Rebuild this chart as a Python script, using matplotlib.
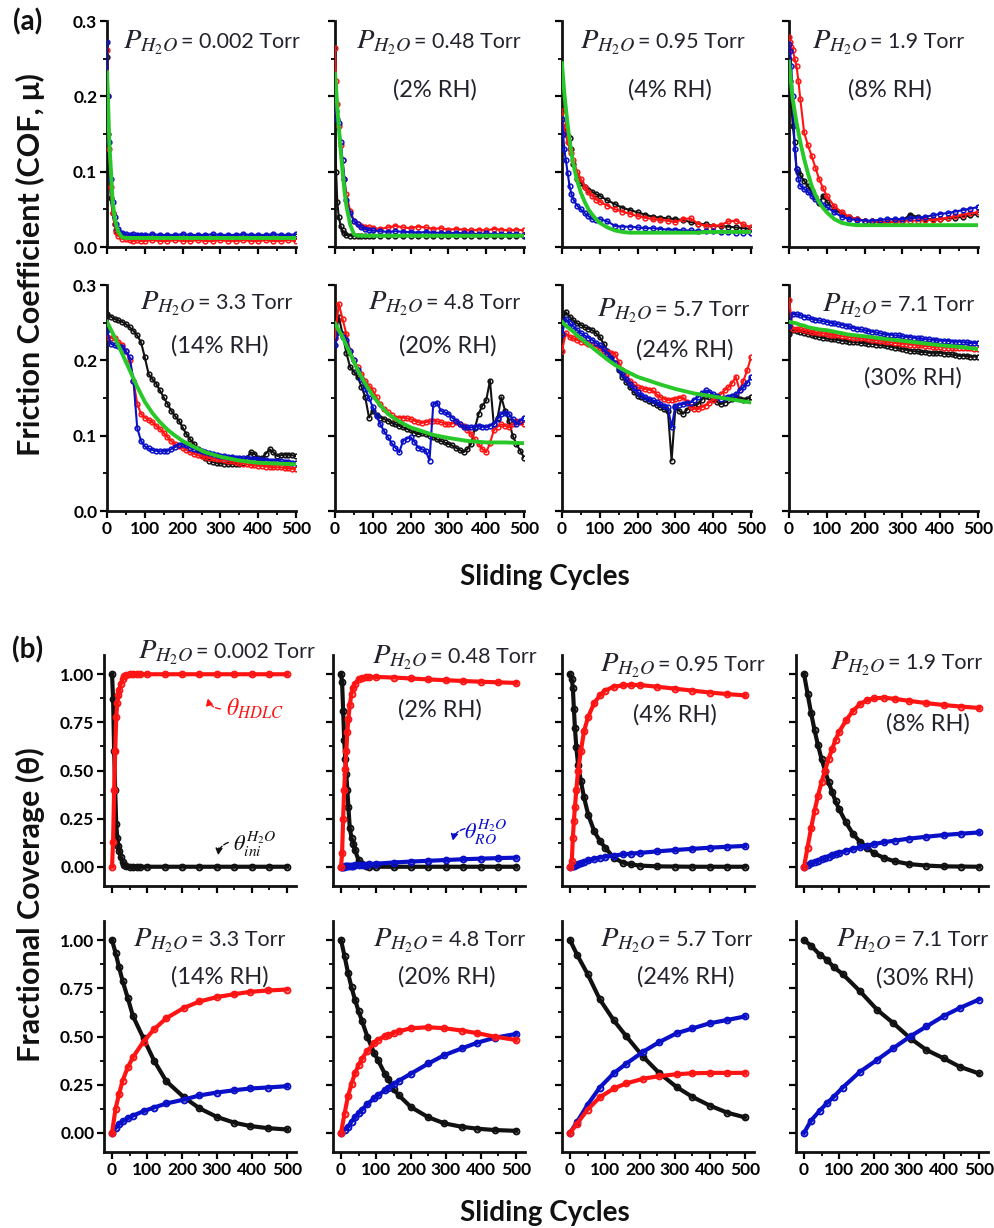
import matplotlib
matplotlib.use('Agg')
import matplotlib.pyplot as plt
from matplotlib.ticker import MultipleLocator, FormatStrFormatter, NullFormatter

plt.rcParams['font.family'] = ['Lato', 'DejaVu Sans']
plt.rcParams['mathtext.fontset'] = 'stix'

# ---------------- DATA: panel (a) friction coefficient ----------------
XF = [0, 3, 6, 10, 15, 20, 25, 30, 40, 50, 60, 70, 80, 90, 100, 120, 140, 160, 180, 200,
      220, 240, 260, 280, 300, 320, 340, 360, 380, 400, 420, 440, 460, 480, 500]
X10 = [0, 10, 20, 30, 40, 50, 60, 70, 80, 90, 100, 110, 120, 130, 140, 150, 160, 170, 180, 190,
       200, 210, 220, 230, 240, 250, 260, 270, 280, 290, 300, 310, 320, 330, 340, 350, 360, 370, 380, 390,
       400, 410, 420, 430, 440, 450, 460, 470, 480, 490, 500]
XG = [0, 10, 20, 30, 40, 50, 60, 80, 100, 120, 140, 160, 180, 200, 230, 260, 300, 350, 400, 450, 500]

a1_black = [0.252, 0.15, 0.10, 0.065, 0.045, 0.03, 0.022, 0.018, 0.015, 0.014, 0.014, 0.013, 0.014, 0.014, 0.013,
            0.014, 0.014, 0.013, 0.014, 0.014, 0.013, 0.014, 0.014, 0.013, 0.014, 0.014, 0.013, 0.014, 0.014, 0.013,
            0.014, 0.014, 0.013, 0.014, 0.014]
a1_red = [0.262, 0.20, 0.13, 0.08, 0.045, 0.03, 0.02, 0.015, 0.011, 0.010, 0.009, 0.008, 0.009, 0.008, 0.008,
          0.009, 0.008, 0.008, 0.009, 0.008, 0.008, 0.009, 0.008, 0.008, 0.009, 0.008, 0.008, 0.009, 0.008, 0.008,
          0.009, 0.008, 0.008, 0.009, 0.008]
a1_blue = [0.272, 0.20, 0.14, 0.09, 0.06, 0.04, 0.03, 0.024, 0.019, 0.017, 0.016, 0.017, 0.016, 0.016, 0.016,
           0.017, 0.016, 0.016, 0.016, 0.017, 0.016, 0.016, 0.016, 0.017, 0.016, 0.016, 0.016, 0.017, 0.016, 0.016,
           0.016, 0.017, 0.016, 0.016, 0.017]
a1_green = [0.232, 0.19, 0.14, 0.105, 0.06, 0.04, 0.028, 0.02, 0.013, 0.012, 0.012, 0.012, 0.012, 0.012, 0.012,
            0.012, 0.012, 0.012, 0.012, 0.012, 0.012, 0.012, 0.012, 0.012, 0.012, 0.012, 0.012, 0.012, 0.012, 0.012,
            0.012, 0.012, 0.012, 0.012, 0.012]

a2_black = [0.17, 0.10, 0.06, 0.04, 0.028, 0.022, 0.018, 0.016, 0.015, 0.015, 0.014, 0.015, 0.014, 0.015, 0.014,
            0.015, 0.014, 0.015, 0.014, 0.015, 0.014, 0.015, 0.014, 0.015, 0.014, 0.015, 0.014, 0.015, 0.014, 0.015,
            0.014, 0.015, 0.014, 0.015, 0.014]
a2_red = [0.264, 0.22, 0.19, 0.16, 0.135, 0.115, 0.09, 0.07, 0.048, 0.035, 0.03, 0.028, 0.027, 0.026, 0.025,
          0.024, 0.026, 0.028, 0.026, 0.025, 0.027, 0.026, 0.024, 0.025, 0.023, 0.024, 0.023, 0.022, 0.023, 0.022,
          0.024, 0.023, 0.022, 0.023, 0.022]
a2_blue = [0.19, 0.18, 0.17, 0.165, 0.14, 0.115, 0.09, 0.062, 0.045, 0.035, 0.03, 0.026, 0.024, 0.022, 0.022,
           0.021, 0.020, 0.021, 0.020, 0.020, 0.019, 0.020, 0.019, 0.019, 0.018, 0.019, 0.018, 0.018, 0.017, 0.018,
           0.017, 0.017, 0.017, 0.017, 0.016]
a2_green = [0.23, 0.21, 0.185, 0.16, 0.128, 0.10, 0.075, 0.055, 0.03, 0.017, 0.015, 0.015, 0.015, 0.015, 0.015,
            0.015, 0.015, 0.015, 0.015, 0.015, 0.015, 0.015, 0.015, 0.015, 0.015, 0.015, 0.015, 0.015, 0.015, 0.015,
            0.015, 0.015, 0.015, 0.015, 0.015]

a3_black = [0.16, 0.155, 0.15, 0.15, 0.148, 0.145, 0.13, 0.11, 0.09, 0.085, 0.08, 0.076, 0.073, 0.07, 0.068,
            0.062, 0.057, 0.052, 0.049, 0.046, 0.043, 0.04, 0.039, 0.038, 0.037, 0.036, 0.033, 0.031, 0.03, 0.028,
            0.028, 0.027, 0.026, 0.025, 0.024]
a3_red = [0.18, 0.165, 0.155, 0.15, 0.14, 0.13, 0.125, 0.115, 0.10, 0.09, 0.08, 0.073, 0.068, 0.063, 0.06,
          0.055, 0.05, 0.047, 0.044, 0.041, 0.039, 0.037, 0.036, 0.035, 0.033, 0.037, 0.038, 0.031, 0.028, 0.028,
          0.029, 0.034, 0.035, 0.03, 0.026]
a3_blue = [0.17, 0.15, 0.13, 0.116, 0.098, 0.081, 0.07, 0.063, 0.055, 0.05, 0.045, 0.041, 0.037, 0.036, 0.037,
           0.034, 0.028, 0.027, 0.027, 0.026, 0.025, 0.025, 0.024, 0.023, 0.023, 0.022, 0.022, 0.021, 0.021, 0.021,
           0.02, 0.02, 0.019, 0.019, 0.018]
a3_green = [0.244, 0.224, 0.205, 0.185, 0.162, 0.142, 0.125, 0.11, 0.088, 0.072, 0.06, 0.05, 0.043, 0.037, 0.032,
            0.026, 0.022, 0.02, 0.019, 0.019, 0.019, 0.019, 0.019, 0.019, 0.019, 0.019, 0.019, 0.019, 0.02, 0.02,
            0.02, 0.02, 0.02, 0.02, 0.02]

a4_black = [0.25, 0.22, 0.19, 0.16, 0.139, 0.103, 0.10, 0.095, 0.088, 0.081, 0.074, 0.066, 0.058, 0.068, 0.06,
            0.05, 0.044, 0.04, 0.037, 0.035, 0.034, 0.033, 0.033, 0.034, 0.035, 0.043, 0.04, 0.037, 0.037, 0.037,
            0.038, 0.039, 0.04, 0.042, 0.044]
a4_red = [0.279, 0.272, 0.265, 0.262, 0.25, 0.24, 0.22, 0.196, 0.152, 0.135, 0.121, 0.105, 0.09, 0.078, 0.068,
          0.054, 0.046, 0.04, 0.037, 0.035, 0.034, 0.033, 0.033, 0.034, 0.035, 0.035, 0.035, 0.036, 0.036, 0.037,
          0.039, 0.041, 0.043, 0.045, 0.046]
a4_blue = [0.27, 0.26, 0.24, 0.20, 0.13, 0.103, 0.09, 0.081, 0.077, 0.073, 0.068, 0.064, 0.06, 0.056, 0.053,
           0.046, 0.04, 0.037, 0.036, 0.035, 0.035, 0.036, 0.037, 0.037, 0.037, 0.038, 0.039, 0.04, 0.042, 0.044,
           0.045, 0.047, 0.049, 0.051, 0.053]
a4_green = [0.246, 0.23, 0.215, 0.196, 0.18, 0.165, 0.152, 0.139, 0.117, 0.098, 0.081, 0.069, 0.059, 0.052, 0.046,
            0.037, 0.032, 0.03, 0.029, 0.029, 0.029, 0.029, 0.029, 0.029, 0.029, 0.029, 0.029, 0.029, 0.029, 0.029,
            0.029, 0.029, 0.029, 0.029, 0.029]

a5_black = [0.262, 0.258, 0.255, 0.253, 0.251, 0.248, 0.244, 0.239, 0.233, 0.224,
            0.204, 0.182, 0.175, 0.169, 0.160, 0.151, 0.142, 0.133, 0.126, 0.120,
            0.111, 0.102, 0.095, 0.089, 0.082, 0.075, 0.070, 0.067, 0.065, 0.064,
            0.064, 0.063, 0.062, 0.062, 0.063, 0.063, 0.064, 0.070, 0.078, 0.076,
            0.071, 0.070, 0.076, 0.082, 0.078, 0.073, 0.074, 0.075, 0.075, 0.074, 0.073]
a5_red = [0.231, 0.230, 0.229, 0.225, 0.220, 0.212, 0.200, 0.173, 0.142, 0.129,
          0.124, 0.121, 0.118, 0.113, 0.109, 0.104, 0.098, 0.093, 0.089, 0.086,
          0.084, 0.081, 0.078, 0.076, 0.074, 0.073, 0.072, 0.071, 0.070, 0.069,
          0.069, 0.068, 0.067, 0.066, 0.065, 0.064, 0.063, 0.062, 0.061, 0.061,
          0.060, 0.060, 0.059, 0.059, 0.058, 0.058, 0.058, 0.057, 0.057, 0.056, 0.056]
a5_blue = [0.240, 0.222, 0.220, 0.219, 0.218, 0.212, 0.204, 0.173, 0.110, 0.093,
           0.086, 0.083, 0.081, 0.080, 0.079, 0.080, 0.080, 0.082, 0.085, 0.088,
           0.089, 0.087, 0.084, 0.082, 0.081, 0.080, 0.078, 0.077, 0.076, 0.075,
           0.073, 0.073, 0.072, 0.072, 0.071, 0.071, 0.070, 0.070, 0.069, 0.069,
           0.069, 0.068, 0.068, 0.067, 0.067, 0.067, 0.066, 0.065, 0.065, 0.064, 0.064]
a5_green = [0.251, 0.241, 0.231, 0.220, 0.209, 0.198, 0.187, 0.165, 0.145, 0.130, 0.118, 0.108, 0.100, 0.093,
            0.085, 0.078, 0.072, 0.067, 0.064, 0.063, 0.062]

a6_black = [0.230, 0.258, 0.235, 0.210, 0.191, 0.185, 0.178, 0.165, 0.151, 0.124,
            0.133, 0.128, 0.124, 0.122, 0.120, 0.117, 0.115, 0.113, 0.111, 0.109,
            0.107, 0.104, 0.102, 0.103, 0.102, 0.100, 0.098, 0.095, 0.093, 0.091,
            0.089, 0.087, 0.084, 0.081, 0.078, 0.082, 0.089, 0.110, 0.129, 0.140,
            0.147, 0.173, 0.115, 0.124, 0.151, 0.133, 0.120, 0.100, 0.089, 0.080, 0.071]
a6_red = [0.230, 0.275, 0.255, 0.235, 0.213, 0.200, 0.191, 0.182, 0.173, 0.166,
          0.160, 0.151, 0.142, 0.136, 0.131, 0.127, 0.124, 0.124, 0.124, 0.123,
          0.122, 0.120, 0.118, 0.117, 0.118, 0.119, 0.120, 0.119, 0.118, 0.116,
          0.115, 0.116, 0.118, 0.116, 0.113, 0.108, 0.102, 0.095, 0.089, 0.082,
          0.078, 0.090, 0.107, 0.112, 0.115, 0.113, 0.111, 0.115, 0.120, 0.118, 0.115]
a6_blue = [0.220, 0.238, 0.231, 0.227, 0.213, 0.200, 0.187, 0.175, 0.162, 0.150,
           0.138, 0.126, 0.115, 0.106, 0.098, 0.090, 0.084, 0.078, 0.093, 0.096,
           0.098, 0.092, 0.084, 0.082, 0.080, 0.067, 0.142, 0.144, 0.133, 0.131,
           0.129, 0.124, 0.120, 0.115, 0.111, 0.111, 0.111, 0.112, 0.113, 0.112,
           0.111, 0.113, 0.115, 0.122, 0.129, 0.130, 0.129, 0.122, 0.115, 0.120, 0.124]
a6_green = [0.249, 0.240, 0.231, 0.220, 0.209, 0.198, 0.187, 0.169, 0.153, 0.140, 0.129, 0.122, 0.116, 0.111,
            0.106, 0.101, 0.097, 0.093, 0.091, 0.091, 0.090]

a7_black = [0.251, 0.264, 0.258, 0.253, 0.249, 0.247, 0.244, 0.242, 0.240, 0.236,
            0.231, 0.222, 0.213, 0.205, 0.196, 0.187, 0.178, 0.171, 0.164, 0.158,
            0.153, 0.151, 0.149, 0.146, 0.144, 0.141, 0.138, 0.135, 0.133, 0.067,
            0.138, 0.133, 0.129, 0.134, 0.138, 0.140, 0.142, 0.148, 0.153, 0.151,
            0.149, 0.145, 0.142, 0.144, 0.147, 0.149, 0.151, 0.149, 0.147, 0.149, 0.151]
a7_red = [0.213, 0.236, 0.231, 0.229, 0.227, 0.225, 0.224, 0.222, 0.220, 0.218,
          0.216, 0.213, 0.211, 0.210, 0.209, 0.198, 0.187, 0.180, 0.173, 0.168,
          0.164, 0.163, 0.162, 0.161, 0.160, 0.155, 0.151, 0.149, 0.147, 0.148,
          0.149, 0.150, 0.151, 0.145, 0.138, 0.136, 0.135, 0.138, 0.140, 0.144,
          0.147, 0.151, 0.155, 0.160, 0.164, 0.170, 0.178, 0.160, 0.173, 0.187, 0.204]
a7_blue = [0.235, 0.255, 0.249, 0.245, 0.240, 0.236, 0.233, 0.230, 0.227, 0.223,
           0.220, 0.215, 0.209, 0.203, 0.196, 0.189, 0.182, 0.175, 0.169, 0.163,
           0.158, 0.154, 0.151, 0.149, 0.147, 0.145, 0.142, 0.140, 0.138, 0.111,
           0.140, 0.141, 0.142, 0.143, 0.144, 0.148, 0.151, 0.156, 0.160, 0.158,
           0.155, 0.152, 0.149, 0.150, 0.151, 0.153, 0.155, 0.160, 0.164, 0.170, 0.178]
a7_green = [0.251, 0.246, 0.242, 0.238, 0.233, 0.229, 0.225, 0.217, 0.209, 0.201, 0.194, 0.188, 0.183, 0.178,
            0.173, 0.168, 0.162, 0.156, 0.152, 0.148, 0.144]

a8_black = [0.235, 0.240, 0.239, 0.238, 0.236, 0.235, 0.233, 0.232, 0.231, 0.230,
            0.229, 0.228, 0.228, 0.227, 0.226, 0.226, 0.225, 0.224, 0.224, 0.223,
            0.223, 0.222, 0.222, 0.221, 0.220, 0.220, 0.219, 0.218, 0.217, 0.216,
            0.215, 0.214, 0.213, 0.212, 0.212, 0.211, 0.211, 0.210, 0.210, 0.210,
            0.210, 0.209, 0.208, 0.208, 0.207, 0.206, 0.206, 0.206, 0.205, 0.205, 0.205]
a8_red = [0.280, 0.242, 0.242, 0.241, 0.240, 0.239, 0.238, 0.237, 0.236, 0.236,
          0.235, 0.234, 0.234, 0.233, 0.232, 0.232, 0.231, 0.230, 0.230, 0.229,
          0.229, 0.228, 0.227, 0.227, 0.226, 0.226, 0.225, 0.224, 0.223, 0.223,
          0.222, 0.222, 0.221, 0.221, 0.220, 0.220, 0.219, 0.219, 0.218, 0.218,
          0.218, 0.217, 0.217, 0.217, 0.217, 0.217, 0.216, 0.216, 0.216, 0.215, 0.215]
a8_blue = [0.245, 0.262, 0.261, 0.260, 0.258, 0.257, 0.255, 0.254, 0.253, 0.252,
           0.251, 0.250, 0.249, 0.248, 0.247, 0.246, 0.245, 0.243, 0.242, 0.241,
           0.240, 0.239, 0.238, 0.237, 0.236, 0.235, 0.234, 0.234, 0.233, 0.233,
           0.232, 0.231, 0.231, 0.230, 0.229, 0.229, 0.228, 0.228, 0.227, 0.227,
           0.226, 0.226, 0.226, 0.225, 0.225, 0.225, 0.224, 0.224, 0.223, 0.223, 0.223]
a8_green = [0.251, 0.250, 0.249, 0.247, 0.246, 0.244, 0.243, 0.241, 0.240, 0.238, 0.236, 0.234, 0.233, 0.232,
            0.230, 0.228, 0.226, 0.223, 0.220, 0.218, 0.215]

# ---------------- DATA: panel (b) fractional coverage ----------------
XB12 = [0, 3, 6, 9, 12, 15, 18, 21, 25, 30, 35, 40, 50, 60, 70, 80, 100, 150, 200, 250, 300, 350, 400, 450, 500]
b1_black = [1.0, 0.87, 0.6, 0.4, 0.22, 0.15, 0.11, 0.08, 0.05, 0.025, 0.01, 0.004, 0.001,
            0, 0, 0, 0, 0, 0, 0, 0, 0, 0, 0, 0]
b1_red = [0.0, 0.13, 0.4, 0.6, 0.78, 0.85, 0.89, 0.92, 0.95, 0.975, 0.99, 0.996, 0.999,
          1, 1, 1, 1, 1, 1, 1, 1, 1, 1, 1, 1]
b2_black = [1.0, 0.96, 0.81, 0.66, 0.56, 0.48, 0.40, 0.31, 0.20, 0.15, 0.12, 0.085, 0.035, 0.012, 0.004, 0.001,
            0, 0, 0, 0, 0, 0, 0, 0, 0]
b2_red = [0.0, 0.07, 0.25, 0.40, 0.51, 0.60, 0.70, 0.77, 0.84, 0.90, 0.93, 0.95, 0.975, 0.983, 0.985, 0.986,
          0.986, 0.983, 0.978, 0.973, 0.969, 0.965, 0.961, 0.958, 0.955]
b2_blue = [0, 0, 0.001, 0.001, 0.002, 0.002, 0.003, 0.003, 0.004, 0.005, 0.006, 0.007, 0.008, 0.010, 0.011,
           0.013, 0.016, 0.022, 0.027, 0.031, 0.035, 0.039, 0.042, 0.045, 0.047]

XB3 = [0, 5, 8, 11, 14, 18, 23, 31, 40, 52, 69, 85, 100, 125, 150, 175, 200, 250, 300, 350, 400, 450, 500]
b3_black = [1.0, 0.975, 0.93, 0.82, 0.72, 0.62, 0.53, 0.445, 0.36, 0.27, 0.185, 0.135, 0.10, 0.047, 0.022,
            0.012, 0.006, 0.002, 0.001, 0, 0, 0, 0]
b3_red = [0.0, 0.03, 0.15, 0.24, 0.31, 0.40, 0.50, 0.60, 0.705, 0.78, 0.85, 0.89, 0.915, 0.935, 0.942, 0.945,
          0.944, 0.935, 0.925, 0.915, 0.905, 0.897, 0.89]
b3_blue = [0, 0.002, 0.004, 0.006, 0.008, 0.011, 0.014, 0.02, 0.026, 0.033, 0.041, 0.047, 0.052, 0.058, 0.064,
           0.068, 0.072, 0.08, 0.087, 0.093, 0.099, 0.104, 0.108]

XB4 = [0, 10, 20, 30, 40, 50, 60, 70, 80, 90, 100, 120, 140, 160, 180, 200, 230, 260, 300, 350, 400, 450, 500]
b4_black = [1.0, 0.90, 0.80, 0.71, 0.63, 0.56, 0.50, 0.44, 0.39, 0.34, 0.30, 0.23, 0.17, 0.13, 0.10, 0.07, 0.045,
            0.028, 0.014, 0.006, 0.002, 0.001, 0.0]
b4_red = [0.0, 0.10, 0.20, 0.29, 0.37, 0.44, 0.50, 0.56, 0.61, 0.66, 0.70, 0.76, 0.81, 0.845, 0.865, 0.875, 0.878,
          0.872, 0.862, 0.85, 0.84, 0.832, 0.825]
b4_blue = [0, 0.008, 0.017, 0.025, 0.032, 0.04, 0.047, 0.053, 0.06, 0.066, 0.072, 0.083, 0.093, 0.102, 0.11, 0.118,
           0.128, 0.136, 0.146, 0.156, 0.165, 0.172, 0.178]

XB5 = [0, 10, 20, 30, 45, 60, 90, 120, 155, 205, 250, 300, 350, 395, 445, 500]
b5_black = [1.0, 0.935, 0.86, 0.79, 0.70, 0.605, 0.49, 0.375, 0.268, 0.185, 0.127, 0.082, 0.052, 0.035, 0.024, 0.017]
b5_red = [0.0, 0.125, 0.20, 0.27, 0.34, 0.393, 0.474, 0.537, 0.595, 0.648, 0.682, 0.705, 0.72, 0.732, 0.739, 0.744]
b5_blue = [0.0, 0.025, 0.045, 0.059, 0.075, 0.089, 0.112, 0.131, 0.152, 0.172, 0.194, 0.209, 0.221, 0.23, 0.235, 0.242]

XB6 = [0, 10, 20, 30, 40, 50, 60, 75, 95, 105, 125, 135, 150, 165, 200, 250, 295, 345, 390, 440, 500]
b6_black = [1.0, 0.918, 0.83, 0.755, 0.69, 0.632, 0.58, 0.50, 0.412, 0.38, 0.307, 0.28, 0.225, 0.195, 0.133, 0.08,
            0.049, 0.031, 0.021, 0.014, 0.01]
b6_red = [0.0, 0.10, 0.19, 0.255, 0.31, 0.35, 0.385, 0.425, 0.465, 0.482, 0.502, 0.508, 0.518, 0.527, 0.543, 0.548,
          0.543, 0.531, 0.517, 0.499, 0.482]
b6_blue = [0.0, 0.015, 0.03, 0.058, 0.08, 0.102, 0.12, 0.148, 0.18, 0.194, 0.22, 0.232, 0.252, 0.27, 0.307, 0.36,
           0.403, 0.438, 0.468, 0.494, 0.513]

XB7 = [0, 20, 50, 85, 125, 160, 210, 255, 305, 350, 400, 450, 500]
b7_black = [1.0, 0.925, 0.825, 0.693, 0.584, 0.503, 0.393, 0.31, 0.237, 0.186, 0.141, 0.104, 0.08]
b7_red = [0.0, 0.047, 0.12, 0.184, 0.23, 0.256, 0.281, 0.294, 0.304, 0.309, 0.311, 0.311, 0.311]
b7_blue = [0.0, 0.056, 0.145, 0.235, 0.309, 0.358, 0.422, 0.471, 0.517, 0.542, 0.569, 0.586, 0.604]

XB8 = [0, 20, 45, 65, 85, 110, 160, 210, 255, 305, 350, 400, 445, 500]
b8_black = [1.0, 0.972, 0.925, 0.9, 0.86, 0.825, 0.735, 0.637, 0.57, 0.489, 0.43, 0.386, 0.343, 0.308]
b8_blue = [0.0, 0.063, 0.115, 0.153, 0.187, 0.234, 0.317, 0.38, 0.439, 0.502, 0.552, 0.607, 0.648, 0.692]

pressures = ['0.002', '0.48', '0.95', '1.9', '3.3', '4.8', '5.7', '7.1']
rh_labels = [None, '(2% RH)', '(4% RH)', '(8% RH)', '(14% RH)', '(20% RH)', '(24% RH)', '(30% RH)']
x_ticks = [0, 100, 200, 300, 400, 500]

# ---------------- STYLE ----------------
W, H = 994, 1228
BLACK = '#111111'
RED = '#ff1414'
BLUE = '#0a10c8'
GREEN = '#28c828'
TXT = '#23232e'

fig = plt.figure(figsize=(W / 100, H / 100), dpi=100)


def ax_at(l, t, w, h):
    return fig.add_axes([l / W, 1 - (t + h) / H, w / W, h / H])


def ftext(px, py, s, **kw):
    return fig.text(px / W, 1 - py / H, s, **kw)


def p_label(px, py, pressure):
    ftext(px, py + 1, r'$P_{H_2O}$', fontsize=20.5, color=TXT, ha='left', va='center')
    ftext(px + 58, py, '= ' + pressure + ' Torr', fontsize=15.5, color=TXT, ha='left', va='center')


def style_axes(ax, yfmt, ymaj, ymin_, show_y, show_x):
    for s in ('top', 'right'):
        ax.spines[s].set_visible(False)
    for s in ('left', 'bottom'):
        ax.spines[s].set_linewidth(2.0)
        ax.spines[s].set_color('#111111')
    ax.set_xticks(x_ticks)
    ax.xaxis.set_minor_locator(MultipleLocator(50))
    ax.yaxis.set_major_locator(MultipleLocator(ymaj))
    ax.yaxis.set_minor_locator(MultipleLocator(ymin_))
    ax.tick_params(which='major', direction='out', length=5, width=1.6, labelsize=12.5, pad=2)
    ax.tick_params(which='minor', direction='out', length=3, width=1.3)
    if show_y:
        ax.yaxis.set_major_formatter(FormatStrFormatter(yfmt))
    else:
        ax.yaxis.set_major_formatter(NullFormatter())
    if not show_x:
        ax.xaxis.set_major_formatter(NullFormatter())
    for lab in ax.get_xticklabels() + ax.get_yticklabels():
        lab.set_fontweight('bold')


# ---------------- PANEL (a) ----------------
a_sets = [
    (XF, a1_black, a1_red, a1_blue, XF, a1_green),
    (XF, a2_black, a2_red, a2_blue, XF, a2_green),
    (XF, a3_black, a3_red, a3_blue, XF, a3_green),
    (XF, a4_black, a4_red, a4_blue, XF, a4_green),
    (X10, a5_black, a5_red, a5_blue, XG, a5_green),
    (X10, a6_black, a6_red, a6_blue, XG, a6_green),
    (X10, a7_black, a7_red, a7_blue, XG, a7_green),
    (X10, a8_black, a8_red, a8_blue, XG, a8_green),
]
a_left = [107, 335, 562, 789]
a_top = [21, 285]
a_w, a_h = 189, 226
for i, (xs, yb, yr, yu, xg, yg) in enumerate(a_sets):
    r, c = divmod(i, 4)
    ax = ax_at(a_left[c], a_top[r], a_w, a_h)
    for ys, col in ((yb, BLACK), (yr, RED), (yu, BLUE)):
        ax.plot(xs, ys, color=col, lw=1.5, marker='o', ms=3.4, mfc='none', mew=1.1, zorder=3)
    ax.plot(xg, yg, color=GREEN, lw=2.8, zorder=5)
    ax.set_xlim(0, 500)
    ax.set_ylim(0, 0.3)
    style_axes(ax, '%.1f', 0.1, 0.05, c == 0, r == 1)

a_plab = [(123, 42), (356, 42), (580, 42), (812, 42), (140, 303), (368, 303), (597, 310), (822, 305)]
a_rh = [None, (435, 90), (670, 90), (890, 90), (220, 346), (448, 346), (685, 350), (913, 378)]
for i in range(8):
    p_label(a_plab[i][0], a_plab[i][1], pressures[i])
    if a_rh[i] is not None:
        ftext(a_rh[i][0], a_rh[i][1], rh_labels[i], fontsize=17, color=TXT, ha='center', va='center')

# ---------------- PANEL (b) ----------------
b_sets = [
    (XB12, b1_black, b1_red, None),
    (XB12, b2_black, b2_red, b2_blue),
    (XB3, b3_black, b3_red, b3_blue),
    (XB4, b4_black, b4_red, b4_blue),
    (XB5, b5_black, b5_red, b5_blue),
    (XB6, b6_black, b6_red, b6_blue),
    (XB7, b7_black, b7_red, b7_blue),
    (XB8, b8_black, None, b8_blue),
]
b_left = [104, 333, 562, 796]
b_top = [655, 921]
b_w, b_h = 192, 231
b_axes = []
for i, (xs, yb, yr, yu) in enumerate(b_sets):
    r, c = divmod(i, 4)
    ax = ax_at(b_left[c], b_top[r], b_w, b_h)
    b_axes.append(ax)
    for ys, col in ((yb, BLACK), (yu, BLUE), (yr, RED)):
        if ys is None:
            continue
        ax.plot(xs, ys, color=col, lw=3.0, marker='o', ms=4.2, mfc='none', mew=1.4, zorder=3)
    ax.set_xlim(-23, 526)
    ax.set_ylim(-0.1, 1.1)
    style_axes(ax, '%.2f', 0.25, 0.125, c == 0, r == 1)

b_plab = [(138, 652), (372, 657), (600, 665), (830, 663), (133, 940), (373, 940), (600, 940), (836, 940)]
b_rh = [None, (440, 710), (675, 715), (928, 724), (220, 977), (447, 977), (686, 977), (925, 978)]
for i in range(8):
    p_label(b_plab[i][0], b_plab[i][1], pressures[i])
    if b_rh[i] is not None:
        ftext(b_rh[i][0], b_rh[i][1], rh_labels[i], fontsize=17, color=TXT, ha='center', va='center')

# annotations
ax = b_axes[0]
ax.text(325, 0.82, r'$\theta_{HDLC}$', color=RED, fontsize=17, ha='left', va='center')
ax.annotate('', xy=(272, 0.89), xytext=(318, 0.82),
            arrowprops=dict(arrowstyle='-|>', color=RED, lw=1.0, ls='--', mutation_scale=10,
                            connectionstyle='arc3,rad=-0.45'))
ax.text(345, 0.12, r'$\theta_{ini}^{H_2O}$', color=BLACK, fontsize=16, ha='left', va='center')
ax.annotate('', xy=(303, 0.045), xytext=(340, 0.13),
            arrowprops=dict(arrowstyle='-|>', color=BLACK, lw=1.0, ls='--', mutation_scale=10,
                            connectionstyle='arc3,rad=0.4'))
ax = b_axes[1]
ax.text(352, 0.18, r'$\theta_{RO}^{H_2O}$', color=BLUE, fontsize=16, ha='left', va='center')
ax.annotate('', xy=(318, 0.12), xytext=(362, 0.2),
            arrowprops=dict(arrowstyle='-|>', color=BLUE, lw=1.0, ls='--', mutation_scale=10,
                            connectionstyle='arc3,rad=0.4'))

# figure labels
ftext(28, 22, '(a)', fontsize=20, weight='bold', ha='center', va='center', color='#111111')
ftext(28, 650, '(b)', fontsize=20, weight='bold', ha='center', va='center', color='#111111')
ftext(30, 265, 'Friction Coefficient (COF, μ)', fontsize=22, weight='bold', rotation=90,
      ha='center', va='center', color='#111111')
ftext(30, 905, 'Fractional Coverage (θ)', fontsize=22, weight='bold', rotation=90,
      ha='center', va='center', color='#111111')
ftext(545, 577, 'Sliding Cycles', fontsize=20, weight='bold', ha='center', va='center', color='#111111')
ftext(545, 1213, 'Sliding Cycles', fontsize=20, weight='bold', ha='center', va='center', color='#111111')

fig.savefig('out.png', dpi=100)
